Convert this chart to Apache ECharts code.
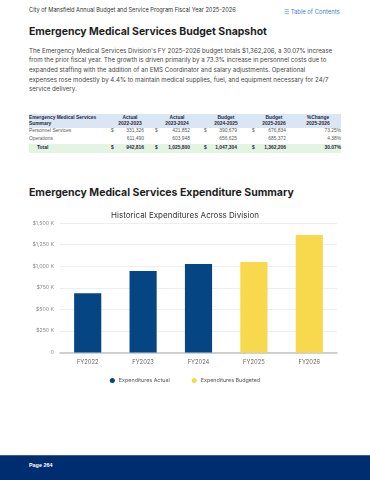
<!DOCTYPE html>
<html>
<head>
<meta charset="utf-8">
<script src="https://cdn.jsdelivr.net/npm/echarts@6/dist/echarts.min.js"></script>
<style>
  html, body { margin:0; padding:0; width:370px; height:480px; overflow:hidden; background:#fff; }
  body { position:relative; font-family:"Inter","Open Sans",sans-serif; }
  .abs { position:absolute; white-space:nowrap; }
  #hdr { left:29px; top:7px; font-size:5.6px; color:#333; }
  #toc { left:284px; top:7.5px; font-size:5.6px; color:#4a7fc1; }
  #t1 { left:29px; top:25px; font-size:11px; font-weight:700; color:#1e1e1e; }
  #para { left:29px; top:45.5px; font-size:6.1px; line-height:9.7px; color:#454545; }
  #t2 { left:29px; top:186px; font-size:11px; font-weight:700; color:#1e1e1e; }
  #tbl { left:0; top:0; width:370px; height:200px; font-family:"Liberation Sans",Arial,sans-serif; font-size:4.9px; }
  .cell { position:absolute; white-space:nowrap; line-height:6px; }
  #footer { position:absolute; left:0; top:455px; width:370px; height:25px; background:#002c70; border-top:1px solid #3a5f94; }
  #page { left:29px; top:462px; font-size:5.4px; font-weight:700; color:#fff; font-family:"Liberation Sans",Arial,sans-serif; }
  #chart { position:absolute; left:0; top:200px; width:370px; height:195px; }
</style>
</head>
<body>
<div id="hdr" class="abs">City of Mansfield Annual Budget and Service Program Fiscal Year 2025-2026</div>
<div id="toc" class="abs">&#9776; Table of Contents</div>
<div id="t1" class="abs">Emergency Medical Services Budget Snapshot</div>
<div id="para" class="abs">The Emergency Medical Services Division's FY 2025-2026 budget totals $1,362,206, a 30.07% increase<br><span id="pl2">from the prior fiscal year. The growth is driven primarily by a 73.3% increase in personnel costs due to</span><br>expanded staffing with the addition of an EMS Coordinator and salary adjustments. Operational<br>expenses rose modestly by 4.4% to maintain medical supplies, fuel, and equipment necessary for 24/7<br>service delivery.</div>
<div id="tbl" class="abs"></div>
<div id="t2" class="abs">Emergency Medical Services Expenditure Summary</div>
<div id="chart"></div>
<div id="footer"></div>
<div id="page" class="abs">Page 264</div>
<script>
// ---- table data ----
const tableHeaders = [["Actual","2022-2023"],["Actual","2023-2024"],["Budget","2024-2025"],["Budget","2025-2026"],["%Change","2025-2026"]];
const rowNames = ["Personnel Services","Operations"];
const personnel = ["331,326","421,852","390,679","676,834","73.25%"];
const operations = ["611,490","603,948","656,625","685,372","4.38%"];
const totals = ["942,816","1,025,800","1,047,304","1,362,206","30.07%"];

// ---- chart data ----
const categories = ["FY2022","FY2023","FY2024","FY2025","FY2026"];
const expendituresActual = [685000, 942816, 1025800, null, null];
const expendituresBudgeted = [null, null, null, 1047304, 1362206];
const yTicks = [0, 250000, 500000, 750000, 1000000, 1250000, 1500000];

// ---- fit text widths to the page layout ----
function fitWidth(el, measureEl, target){
  const w = measureEl.getBoundingClientRect().width;
  const fs = parseFloat(getComputedStyle(el).fontSize);
  el.style.fontSize = (fs * target / w) + 'px';
}
fitWidth(document.getElementById('hdr'), document.getElementById('hdr'), 207);
fitWidth(document.getElementById('t1'), document.getElementById('t1'), 238);
fitWidth(document.getElementById('t2'), document.getElementById('t2'), 265);
fitWidth(document.getElementById('para'), document.getElementById('pl2'), 298);
fitWidth(document.getElementById('toc'), document.getElementById('toc'), 56);

// ---- build table ----
(function(){
  const t = document.getElementById('tbl');
  function add(html, style){ const d=document.createElement('div'); d.className='cell'; d.innerHTML=html; Object.assign(d.style, style); t.appendChild(d); return d; }
  add('', {left:'29px', top:'114px', width:'312px', height:'14px', background:'#dbe6f5'});
  add('', {left:'29px', top:'144px', width:'312px', height:'9px', background:'#e4f4e2'});
  add('Emergency Medical Services', {left:'29px', top:'115.3px', fontWeight:'700', color:'#1f2940'});
  add('Summary', {left:'29px', top:'121.3px', fontWeight:'700', color:'#1f2940'});
  const centers = [130,177,226,274,318];
  tableHeaders.forEach((h,i)=>{
    add(h[0], {left:(centers[i]-20)+'px', width:'40px', textAlign:'center', top:'115.3px', fontWeight:'700', color:'#1f2940'});
    add(h[1], {left:(centers[i]-20)+'px', width:'40px', textAlign:'center', top:'121.3px', fontWeight:'700', color:'#1f2940'});
  });
  const rights = [144,190,237,286,341];
  const dollars = [111,155,204,252];
  const rows = [[personnel,128.3,true,false,rowNames[0],29],[operations,135.6,false,false,rowNames[1],29],[totals,145.3,true,true,'Total',37]];
  rows.forEach(r=>{
    const [vals, top, withDollar, bold, name, nx] = r;
    const col = bold ? '#1f2940' : '#5a5a5a';
    add(name, {left:nx+'px', top:top+'px', color:col, fontWeight: bold?'700':'400'});
    vals.forEach((v,i)=>{
      add(v, {left:(rights[i]-50)+'px', width:'50px', textAlign:'right', top:top+'px', color:col, fontWeight: bold?'700':'400'});
      if (withDollar && i<4) add('$', {left:dollars[i]+'px', top:top+'px', color:col, fontWeight: bold?'700':'400'});
    });
  });
})();

// ---- chart ----
const chart = echarts.init(document.getElementById('chart'), null, {renderer:'canvas'});
chart.setOption({
  animation:false,
  title:{ text:'Historical Expenditures Across Division', left:'center', top:7,
    textStyle:{ fontFamily:'Inter, "Open Sans", sans-serif', fontSize:8, fontWeight:400, color:'#333' } },
  grid:{ left:60, right:33, top:23, height:129.5, containLabel:false },
  legend:{ top:173, left:'center', itemGap:22, itemWidth:5, itemHeight:5, icon:'circle',
    textStyle:{ fontFamily:'Inter, "Open Sans", sans-serif', fontSize:5.4, color:'#555', padding:[0,0,0,-1] },
    data:['Expenditures Actual','Expenditures Budgeted'] },
  xAxis:{ type:'category', data:categories,
    axisLine:{ lineStyle:{ color:'#c4c4c4', width:1.5 } }, axisTick:{ show:false },
    axisLabel:{ fontFamily:'Inter, "Open Sans", sans-serif', fontSize:5.8, color:'#666', margin:7 } },
  yAxis:{ type:'value', min:yTicks[0], max:yTicks[yTicks.length-1], interval:yTicks[1]-yTicks[0],
    splitLine:{ lineStyle:{ color:'#eeeeee', width:1 } },
    axisLabel:{ fontFamily:'Inter, "Open Sans", sans-serif', fontSize:5.2, color:'#888', margin:6,
      formatter:v=> v===0 ? '0' : '$' + (v/1000).toLocaleString('en-US') + ' K' } },
  series:[
    { name:'Expenditures Actual', type:'bar', stack:'exp', data:expendituresActual, barWidth:'49%', itemStyle:{ color:'#064583' } },
    { name:'Expenditures Budgeted', type:'bar', stack:'exp', data:expendituresBudgeted, barWidth:'49%', itemStyle:{ color:'#f8d84c' } }
  ]
});
</script>
</body>
</html>
